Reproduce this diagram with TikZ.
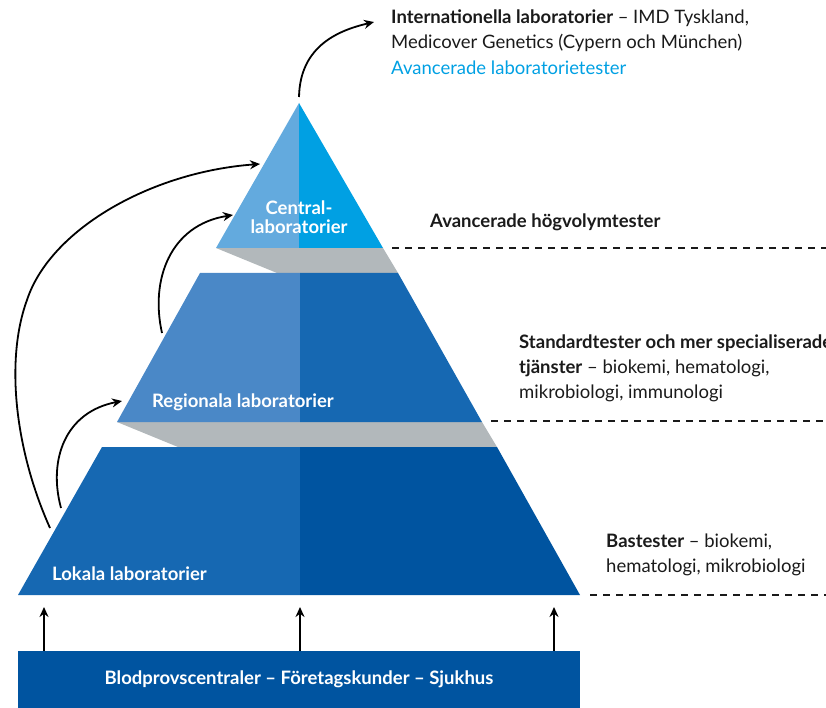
\documentclass[tikz,border=0pt]{standalone}
\usepackage{fontspec}
\setmainfont{Lato}
\usepackage{tikz}
\usetikzlibrary{arrows.meta,positioning}
\usepackage{xcolor}
\definecolor{labtopleft}{RGB}{99,170,222}
\definecolor{labtopright}{RGB}{0,160,227}
\definecolor{labmidleft}{RGB}{74,136,199}
\definecolor{labmidright}{RGB}{22,104,178}
\definecolor{labbotright}{RGB}{0,84,160}
\definecolor{labgray}{RGB}{178,184,187}
\definecolor{labtext}{RGB}{26,26,26}
\tikzstyle{levellabel} = [text=white, font=\bfseries\fontsize{18.5}{19}\selectfont, align=center, inner sep=0]
\tikzstyle{infotext} = [text=labtext, font=\fontsize{18.5}{25.3}\selectfont, align=left, inner sep=0, anchor=north west]
\tikzstyle{arrow} = [line width=1.8pt, -{Stealth[length=10pt,width=9pt]}, color=black]
\tikzstyle{divider} = [line width=1.8pt, dash pattern=on 7pt off 6pt, color=labtext]
\tikzstyle{source} = [rectangle, fill=labbotright, minimum width=562pt, minimum height=57pt, inner sep=0, text=white, font=\bfseries\fontsize{18.5}{19}\selectfont]

\begin{document}
\begin{tikzpicture}[x=1pt,y=-1pt]
\useasboundingbox (0,0) rectangle (826,708);
\clip (0,0) rectangle (826,708);

% Shadows between the levels
\fill[labgray] (216,248) -- (383,248) -- (398,273) -- (277,273) -- cycle;
\fill[labgray] (117,422) -- (482,422) -- (497,447) -- (178,447) -- cycle;

% Central laboratories (top)
\fill[labtopleft] (299,103) -- (216,248) -- (299,248) -- cycle;
\fill[labtopright] (299,103) -- (383,248) -- (299,248) -- cycle;
\node[levellabel, anchor=north] (central) at (299,200.5) {Central-\\laboratorier};

% Regional laboratories
\fill[labmidleft] (200,273) -- (300,273) -- (300,422) -- (117,422) -- cycle;
\fill[labmidright] (300,273) -- (398,273) -- (482,422) -- (300,422) -- cycle;
\node[levellabel, anchor=base west] (regional) at (152,407) {Regionala laboratorier};

% Local laboratories
\fill[labmidright] (102,447) -- (300,447) -- (300,595) -- (18,595) -- cycle;
\fill[labbotright] (300,447) -- (497,447) -- (580,595) -- (300,595) -- cycle;
\node[levellabel, anchor=base west] (local) at (52,580) {Lokala laboratorier};

% Customers
\node[source] (bar) at (299,679.5) {Blodprovscentraler -- Företagskunder -- Sjukhus};

% Points on the pyramid
\coordinate (apex) at (299,97);
\coordinate (intl) at (374,22);
\coordinate (centralA) at (260,164);
\coordinate (centralB) at (233,215);
\coordinate (regionalA) at (122,401);
\coordinate (regionalB) at (162,333);
\coordinate (localA) at (50,528);
\coordinate (localB) at (61,508);
\coordinate (in1) at (44,607);
\coordinate (in2) at (300,607);
\coordinate (in3) at (554,607);

% Referrals
\draw[arrow] (localB) .. controls (48,460) and (65,412) .. (regionalA);
\draw[arrow] (regionalB) .. controls (150,280) and (170,225) .. (centralB);
\draw[arrow] (localA) .. controls (15,450) and (5,360) .. (27,300) .. controls (50,230) and (150,172) .. (centralA);
\draw[arrow] (apex) .. controls (300,45) and (340,30) .. (intl);
\draw[arrow] (bar.north -| in1) -- (in1);
\draw[arrow] (bar.north -| in2) -- (in2);
\draw[arrow] (bar.north -| in3) -- (in3);

% Dashed dividers
\draw[divider] (392,248) -- (826,248);
\draw[divider] (491,421) -- (826,421);
\draw[divider] (590,595) -- (826,595);

% Descriptions
\node[infotext] (intltext) at (391,9.7) {\textbf{Internationella laboratorier} -- IMD Tyskland,\\Medicover Genetics (Cypern och München)\\\textcolor{labtopright}{Avancerade laboratorietester}};
\node[infotext, anchor=base west] (hightext) at (430,228) {\textbf{Avancerade högvolymtester}};
\node[infotext] (stdtext) at (519,334.4) {\textbf{Standardtester och mer specialiserade}\\\textbf{tjänster} -- biokemi, hematologi,\\mikrobiologi, immunologi};
\node[infotext] (basetext) at (606,533.4) {\textbf{Bastester} -- biokemi,\\hematologi, mikrobiologi};
\end{tikzpicture}
\end{document}
